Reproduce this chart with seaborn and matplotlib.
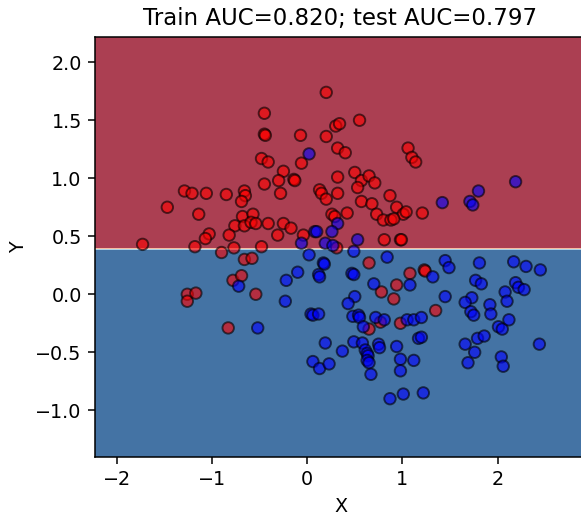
import numpy as np
import pandas as pd
import matplotlib
matplotlib.use("Agg")
import matplotlib.pyplot as plt
import seaborn as sns

# Samples of the "red" class
red_x = [-0.45, -0.45, -0.44, -0.48, -0.41, -0.45,
         -1.29, -1.21, -1.06, -0.85, -0.66, -0.65, -0.69,
         0.20, -0.07, 0.30, 0.34, 0.55, 0.20, 0.32, 0.40,
         -0.06, -0.25, -0.30, -0.14, -0.13, 0.32, 0.50, 0.57, 0.65, 0.71, 0.53,
         0.13, 0.15, 0.32, 0.87, -0.28,
         1.06, 1.10, 1.14,
         -1.47, -1.14, -0.68, -0.57, -0.76, -0.66, -0.59, -0.54, -0.41,
         -1.03, -1.07, -0.82, -1.73, -1.18, -0.77, -0.48,
         -0.90, -0.66, -0.58, -0.78, -0.69, -1.26, -1.26, -0.83, -1.17, -0.54,
         0.20, 0.57, 0.68, 0.94, 1.01, 1.04, 0.73, 0.80, 0.88, 0.91, 0.42, 0.26, 0.29,
         -0.25, -0.17, -0.31, -0.04, 0.31, 0.81, 0.98, 0.99,
         0.65, 0.78, 0.94, 1.08, 0.91, 1.21, 1.23, 1.24, 0.65, 0.77, 0.98, 1.35]
red_y = [1.56, 1.38, 1.37, 1.17, 1.14, 0.95,
         0.89, 0.87, 0.87, 0.86, 0.89, 0.85, 0.80,
         1.74, 1.37, 1.45, 1.47, 1.50, 1.36, 1.26, 1.22,
         1.13, 1.06, 0.98, 0.99, 0.98, 1.01, 1.05, 0.98, 1.02, 0.96, 0.92,
         0.90, 0.87, 0.87, 0.85, 0.87,
         1.26, 1.18, 1.14,
         0.75, 0.69, 0.67, 0.69, 0.59, 0.59, 0.62, 0.61, 0.61,
         0.52, 0.48, 0.51, 0.43, 0.41, 0.40, 0.41,
         0.36, 0.30, 0.31, 0.12, 0.16, 0.00, -0.06, -0.29, 0.01, 0.00,
         0.82, 0.80, 0.78, 0.75, 0.69, 0.71, 0.69, 0.64, 0.64, 0.65, 0.70, 0.69, 0.67,
         0.61, 0.57, 0.51, 0.51, 0.40, 0.47, 0.47, 0.47,
         0.27, 0.02, 0.08, 0.18, -0.04, 0.70, 0.21, 0.20, -0.30, -0.24, -0.25, -0.14]

# Samples of the "blue" class
blue_x = [0.02, 2.19, 1.80, 1.42, 1.71, 1.74,
          -0.72, -0.52,
          0.32, 0.08, 0.10, 0.26, -0.06, 0.19, 0.27, 0.53, 0.49, 0.02,
          0.17, 0.18, 0.84, -0.10, 0.12, 0.13, 0.47, 0.49, -0.22, 0.70, 1.08,
          0.50, -0.23, 0.43,
          1.45, 1.49, 1.81, 2.17, 2.30, 2.45, 1.32, 1.77, 1.83, 2.19, 2.22, 2.28,
          2.08, 1.45, 1.73, 1.66, 2.10, 1.92,
          0.04, 0.06, 0.12, 0.48, 0.54, 0.55, 0.59, 0.72, 0.81, 1.05, 1.12, 1.20,
          0.19, 0.37, 0.49, 0.58, 0.61, 0.63, 0.64, 0.75, 0.76, 0.94, 1.17, 1.20,
          0.06, 0.13, 0.23, 0.63, 0.65, 0.98, 1.12, 0.98, 0.67, 0.87, 1.01,
          1.72, 1.75, 1.93, 2.01, 2.05, 2.12, 1.66, 1.79, 1.86, 1.76, 2.44, 2.04,
          2.06, 1.69, 1.22]
blue_y = [1.21, 0.97, 0.89, 0.79, 0.80, 0.77,
          0.07, -0.29,
          0.61, 0.54, 0.54, 0.54, 0.44, 0.44, 0.42, 0.47, 0.37, 0.34,
          0.27, 0.26, 0.32, 0.19, 0.17, 0.15, 0.18, 0.17, 0.12, 0.09, 0.08,
          -0.02, -0.06, -0.08,
          0.29, 0.23, 0.27, 0.28, 0.24, 0.21, 0.15, 0.12, 0.09, 0.10, 0.06, 0.04,
          0.02, -0.02, -0.03, -0.07, -0.06, -0.09,
          -0.17, -0.18, -0.17, -0.19, -0.18, -0.20, -0.28, -0.20, -0.22, -0.22, -0.22, -0.20,
          -0.42, -0.49, -0.41, -0.42, -0.48, -0.51, -0.53, -0.43, -0.46, -0.45, -0.38, -0.37,
          -0.58, -0.64, -0.60, -0.57, -0.59, -0.56, -0.57, -0.66, -0.69, -0.90, -0.86,
          -0.15, -0.18, -0.17, -0.28, -0.30, -0.22, -0.43, -0.38, -0.36, -0.50, -0.43, -0.54,
          -0.62, -0.59, -0.85]

# Depth-1 tree: a single split on Y, and P(blue) in the upper / lower leaf
split_y = 0.396
leaf_proba_blue = [0.16, 0.84]
title = "Train AUC=0.820; test AUC=0.797"

df = pd.DataFrame({
    "X": red_x + blue_x,
    "Y": red_y + blue_y,
    "cls": ["red"] * len(red_x) + ["blue"] * len(blue_x),
})

# Mesh over the feature space for the decision surface
h = 0.02
x_min, x_max = df["X"].min() - 0.5, df["X"].max() + 0.5
y_min, y_max = df["Y"].min() - 0.5, df["Y"].max() + 0.5
xx, yy = np.meshgrid(np.arange(x_min, x_max, h), np.arange(y_min, y_max, h))
Z = np.where(yy > split_y, leaf_proba_blue[0], leaf_proba_blue[1])

dpi = 137.5
fig = plt.figure(figsize=(581 / dpi, 512 / dpi), dpi=dpi)
ax = fig.add_axes([95 / 581, (512 - 456.7) / 512, 491 / 581, 420 / 512])

ax.contourf(xx, yy, Z, cmap=plt.cm.RdBu, alpha=0.8)
sns.scatterplot(data=df, x="X", y="Y", hue="cls",
                palette={"red": "#FF0000", "blue": "#0000FF"},
                alpha=0.6, edgecolor="k", linewidth=1, s=36,
                legend=False, ax=ax)

ax.set_xlim(xx.min(), xx.max())
ax.set_ylim(yy.min(), yy.max())
ax.set_xlabel("X")
ax.set_ylabel("Y")
ax.set_title(title)

fig.savefig("out.png", dpi=dpi)
